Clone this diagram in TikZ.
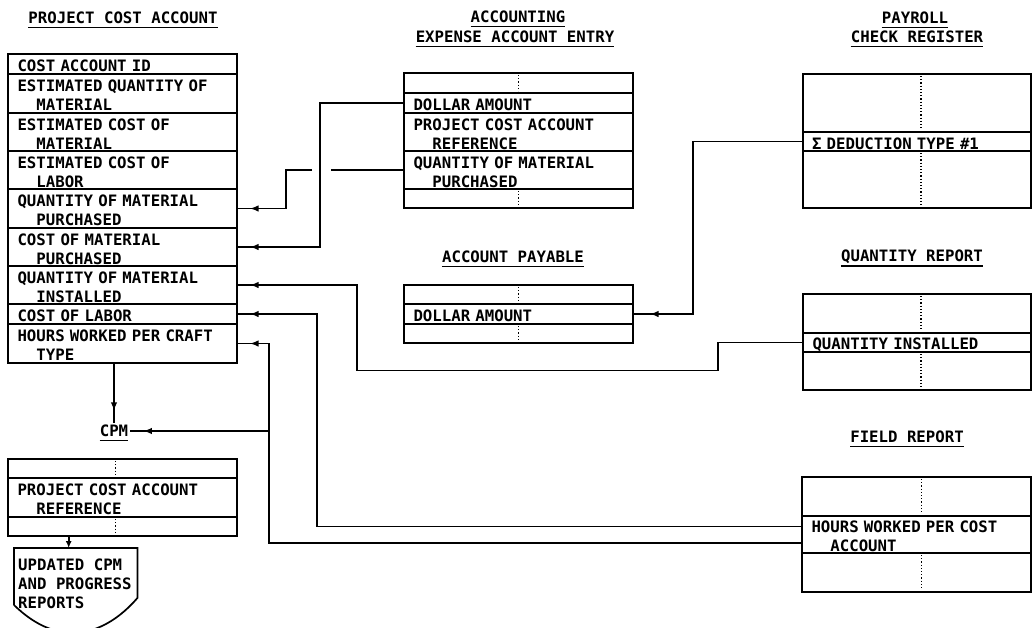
\documentclass[tikz,border=0pt]{standalone}
\usepackage{fontspec}
\newfontfamily\dmono{DejaVu Sans Mono Bold}
\usetikzlibrary{calc,arrows.meta,decorations.markings}
\newcommand\myind{\hspace*{18.9pt}}
\begin{document}
\begin{tikzpicture}[x=1pt,y=-1pt,
  txt/.style={font=\dmono\fontsize{15.7}{19}\selectfont},
  rec/.style={txt, draw, line width=1.7pt, rectangle, anchor=north west,
    text width=210pt, inner xsep=9.5pt, inner ysep=0pt, outer sep=0pt, align=left,
    execute at begin node={\rule{0pt}{15.4pt}}},
  ttl/.style={txt, inner sep=0pt},
  dots/.style={line width=1.2pt, dash pattern=on 1.2pt off 2pt},
  conn/.style={draw, line width=1.6pt},
  arr/.style={postaction={decorate,decoration={markings,
    mark=at position -#1 with {\arrow{Latex[length=8.5pt,width=6.5pt]}}}}},
  arr/.default=13pt,
  ul/.style={line width=1.5pt}
]
\useasboundingbox (0,0) rectangle (1032,627);
\clip (0,0) rectangle (1032,627);

% ---------- titles ----------
\node[ttl] (tPC) at (123,18) {PROJECT COST ACCOUNT};
\node[ttl] (tAE1) at (518,17) {ACCOUNTING};
\node[ttl] (tAE2) at (515,37) {EXPENSE ACCOUNT ENTRY};
\node[ttl] (tPR1) at (915,18) {PAYROLL};
\node[ttl] (tPR2) at (917,37) {CHECK REGISTER};
\node[ttl] (tAP) at (513,257) {ACCOUNT PAYABLE};
\node[ttl] (tQR) at (912,257) {QUANTITY REPORT};
\node[ttl] (tFR) at (907,437) {FIELD REPORT};
\node[ttl, inner sep=2pt] (cpm) at (114,431) {CPM};
\foreach \t in {tPC,tAE1,tAE2,tPR1,tPR2,tAP,tQR,tFR}{
  \draw[ul] ($(\t.base west)+(0,4)$) -- ($(\t.base east)+(0,4)$);
}
\draw[ul] ($(cpm.base west)+(2,4)$) -- ($(cpm.base east)+(-2,4)$);

% ---------- project cost account ----------
\node[rec, minimum height=20pt] (pc1) at (8,54) {COST ACCOUNT ID};
\node[rec, minimum height=39pt] (pc2) at (8,74) {ESTIMATED QUANTITY OF\\\myind MATERIAL};
\node[rec, minimum height=38pt] (pc3) at (8,113) {ESTIMATED COST OF\\\myind MATERIAL};
\node[rec, minimum height=38pt] (pc4) at (8,151) {ESTIMATED COST OF\\\myind LABOR};
\node[rec, minimum height=39pt] (pc5) at (8,189) {QUANTITY OF MATERIAL\\\myind PURCHASED};
\node[rec, minimum height=38pt] (pc6) at (8,228) {COST OF MATERIAL\\\myind PURCHASED};
\node[rec, minimum height=38pt] (pc7) at (8,266) {QUANTITY OF MATERIAL\\\myind INSTALLED};
\node[rec, minimum height=20pt] (pc8) at (8,304) {COST OF LABOR};
\node[rec, minimum height=39pt] (pc9) at (8,324) {HOURS WORKED PER CRAFT\\\myind TYPE};

% ---------- accounting expense account entry ----------
\node[rec, minimum height=20pt] (ae1) at (404,73) {};
\node[rec, minimum height=20pt] (ae2) at (404,93) {DOLLAR AMOUNT};
\node[rec, minimum height=38pt] (ae3) at (404,113) {PROJECT COST ACCOUNT\\\myind REFERENCE};
\node[rec, minimum height=38pt] (ae4) at (404,151) {QUANTITY OF MATERIAL\\\myind PURCHASED};
\node[rec, minimum height=19pt] (ae5) at (404,189) {};

% ---------- account payable ----------
\node[rec, minimum height=19pt] (ap1) at (404,285) {};
\node[rec, minimum height=20pt] (ap2) at (404,304) {DOLLAR AMOUNT};
\node[rec, minimum height=19pt] (ap3) at (404,324) {};

% ---------- payroll check register ----------
\node[rec, text width=209pt, minimum height=58pt] (pr1) at (803,74) {};
\node[rec, inner xsep=9pt, text width=210pt, minimum height=19pt] (pr2) at (803,132) {Σ DEDUCTION TYPE \#1};
\node[rec, text width=209pt, minimum height=57pt] (pr3) at (803,151) {};

% ---------- quantity report ----------
\node[rec, text width=209pt, minimum height=39pt] (qr1) at (803,294) {};
\node[rec, text width=209pt, minimum height=19pt] (qr2) at (803,333) {QUANTITY INSTALLED};
\node[rec, text width=209pt, minimum height=38pt] (qr3) at (803,352) {};

% ---------- field report ----------
\node[rec, minimum height=39pt] (fr1) at (802,477) {};
\node[rec, minimum height=37pt] (fr2) at (802,516) {HOURS WORKED PER COST\\\myind ACCOUNT};
\node[rec, minimum height=39pt] (fr3) at (802,553) {};

% ---------- bottom-left record ----------
\node[rec, minimum height=19pt] (bl1) at (8,459) {};
\node[rec, minimum height=39pt] (bl2) at (8,478) {PROJECT COST ACCOUNT\\\myind REFERENCE};
\node[rec, minimum height=19pt] (bl3) at (8,517) {};

% ---------- dotted separators ----------
\foreach \n/\dx in {ae1/0,ae5/0,ap1/0,ap3/0,pr1/4,pr3/4,qr1/4,qr3/4,fr1/5,fr3/5,bl1/-7,bl3/-7}{
  \draw[dots] ($(\n.north)+(\dx,2)$) -- ($(\n.south)+(\dx,-2)$);
}

% ---------- report document ----------
\node[minimum width=123pt, minimum height=50pt, anchor=north west, inner sep=0pt] (doc) at (14,548) {};
\draw[line width=1.7pt] ($(doc.north west)+(0,57)$) -- (doc.north west) -- (doc.north east)
  -- ($(doc.north east)+(0,50)$)
  .. controls ($(doc.north east)+(-32,87)$) and ($(doc.north west)+(46,102)$) .. ($(doc.north west)+(0,57)$);
\node[txt, anchor=north west, align=left, inner sep=0pt] (doctext) at (18,559)
  {UPDATED CPM\\AND PROGRESS\\REPORTS};

% ---------- connectors ----------
% dollar amount -> cost of material purchased
\draw[conn, arr] (ae2.west) -- ++(-84,0) |- (pc6.east);
% quantity of material purchased -> quantity of material purchased (with crossing gap)
\draw[conn] (ae4.west) -- ++(-73,0);
\coordinate (gapL) at ($(ae4.west)+(-92,0)$);
\draw[conn, arr] (gapL) -- ++(-26,0) |- (pc5.east);
% deduction -> account payable
\draw[conn, arr=17pt] (pr2.west) -- ++(-110,0) |- (ap2.east);
% quantity installed -> quantity of material installed
\coordinate (q1) at ($(qr2.west)+(-85,28)$);
\coordinate (q2) at ($(q1)+(-361,0)$);
\draw[conn, arr] (qr2.west) -| (q1) -- (q2) |- (pc7.east);
% hours worked per cost account -> cost of labor / hours per craft
\coordinate (frA) at ($(fr2.west)+(0,-8)$);
\coordinate (frB) at ($(fr2.west)+(0,8.5)$);
\draw[conn, arr] (frA) -- ++(-485,0) |- (pc8.east);
\draw[conn, arr] (frB) -- ++(-533,0) |- (pc9.east);
\coordinate (jn) at ($(frB)+(-533,0)$);
\draw[conn, arr] (jn |- cpm.east) -- (cpm.east);
% project cost account -> CPM
\draw[conn, arr=12pt] (cpm.north |- pc9.south) -- (cpm.north);
% record -> report
\draw[line width=1.6pt, -{Latex[length=7pt,width=6pt]}] (bl3.south -| doc.north) ++(-7,0) coordinate (bx) -- (bx |- doc.north);
\end{tikzpicture}
\end{document}
